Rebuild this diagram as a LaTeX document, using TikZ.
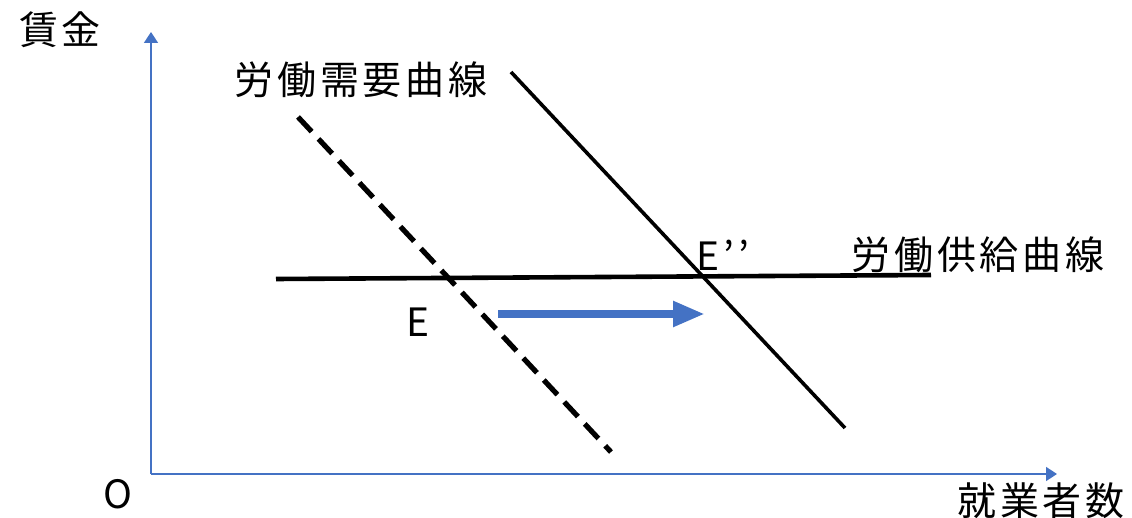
\documentclass[tikz,border=0pt]{standalone}
\usepackage{fontspec}
\setmainfont{Noto Sans CJK JP}[LetterSpace=10]
\usetikzlibrary{arrows.meta}
\definecolor{axisblue}{HTML}{4472C4}
\tikzset{
  axis/.style={draw=axisblue,line width=0.8pt,-{Triangle[length=5.5pt,width=7pt]}},
  demand/.style={line width=1.8pt},
  olddemand/.style={line width=2.6pt,dash pattern=on 10pt off 5pt},
  supply/.style={line width=2.3pt},
  shiftarrow/.style={draw=axisblue,line width=4pt,-{Triangle[length=16pt,width=12pt]}},
  lbl/.style={font=\fontsize{19.5}{23}\selectfont,inner sep=0pt},
}
\begin{document}
\begin{tikzpicture}[x=0.5pt,y=-0.5pt]
  \useasboundingbox (0,0) rectangle (1132,518);
  % ---- axes ----
  \coordinate (O) at (151,474);
  \coordinate (ytop) at (151,32);
  \coordinate (xend) at (1057,474);
  \draw[axis] (O) -- (ytop);
  \draw[axis] (O) -- (xend);
  \node[lbl] (wage) at (60,30) {賃金};
  \node[lbl] (origin) at (118,494) {O};
  \node[lbl] (workers) at (1041,501) {就業者数};
  % ---- curves ----
  \coordinate (d0a) at (298,117);
  \coordinate (d0b) at (611,452);
  \coordinate (d1a) at (511,72);
  \coordinate (d1b) at (845,428);
  \coordinate (sa) at (276,279);
  \coordinate (sb) at (931,275);
  \draw[olddemand] (d0a) -- (d0b);
  \draw[demand] (d1a) -- (d1b);
  \draw[supply] (sa) -- (sb);
  \node[lbl] (dlabel) at (361,80) {労働需要曲線};
  \node[lbl] (slabel) at (978,255) {労働供給曲線};
  % ---- equilibria ----
  \node[lbl] (E) at (418,322) {E};
  \node[lbl] (E2) at (723,255) {E’’};
  % ---- shift ----
  \coordinate (sh0) at (498,314);
  \coordinate (sh1) at (705,314);
  \draw[shiftarrow] (sh0) -- (sh1);
\end{tikzpicture}
\end{document}
